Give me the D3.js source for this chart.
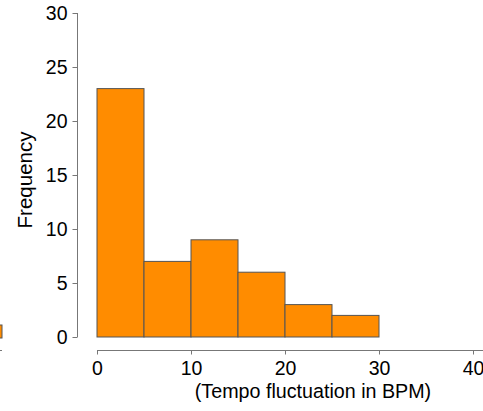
<!DOCTYPE html>
<html><head><meta charset="utf-8">
<script src="https://cdn.jsdelivr.net/npm/d3@7"></script>
<style>body{margin:0;background:#fff}svg{display:block}text{font-family:"Liberation Sans",Arial,sans-serif;fill:#000}</style>
</head><body><svg id="c" width="483" height="411"></svg>
<script>
const binStarts = [0, 5, 10, 15, 20, 25];
const binWidth = 5;
const frequencies = [23, 7, 9, 6, 3, 2];
const xTicks = [0, 10, 20, 30, 40];
const yTicks = [0, 5, 10, 15, 20, 25, 30];
const xLabel = "(Tempo fluctuation in BPM)";
const yLabel = "Frequency";

const svg = d3.select("#c");
const x = d3.scaleLinear().domain([0, 40]).range([97, 473]);
const y = d3.scaleLinear().domain([0, 30]).range([337, 13]);

// stray fragment at left edge
svg.append("rect").attr("x", -10).attr("y", 325).attr("width", 12).attr("height", 13)
  .attr("fill", "#FF8C00").attr("stroke", "#555");
svg.append("line").attr("x1", 0).attr("x2", 2).attr("y1", 350.5).attr("y2", 350.5).attr("stroke", "#777");

svg.selectAll("rect.bar").data(binStarts).enter().append("rect").attr("class", "bar")
  .attr("x", d => x(d)).attr("width", d => x(d + binWidth) - x(d))
  .attr("y", (d, i) => y(frequencies[i])).attr("height", (d, i) => y(0) - y(frequencies[i]))
  .attr("fill", "#FF8C00").attr("stroke", "#555").attr("stroke-width", 1);

const yAx = svg.append("g").attr("transform", "translate(77.5,0)")
  .call(d3.axisLeft(y).tickValues(yTicks).tickSize(5).tickPadding(5));
const xAx = svg.append("g").attr("transform", "translate(0,350.5)")
  .call(d3.axisBottom(x).tickValues(xTicks).tickSize(4).tickPadding(7));
[yAx, xAx].forEach(a => {
  a.select(".domain").remove();
  a.selectAll("line").attr("stroke", "#777");
  a.selectAll("text").style("font-size", "19.5px").attr("fill", "#000");
});
yAx.append("line").attr("x1", 0).attr("x2", 0).attr("y1", y(30)).attr("y2", y(0)).attr("stroke", "#777");
xAx.append("line").attr("x1", x(0)).attr("x2", 483).attr("y1", 0).attr("y2", 0).attr("stroke", "#777");

svg.append("text").attr("x", 313).attr("y", 398).attr("text-anchor", "middle")
  .style("font-size", "19.7px").text(xLabel);
svg.append("text").attr("transform", "translate(32,180) rotate(-90)").attr("text-anchor", "middle")
  .style("font-size", "20.5px").text(yLabel);
</script></body></html>
